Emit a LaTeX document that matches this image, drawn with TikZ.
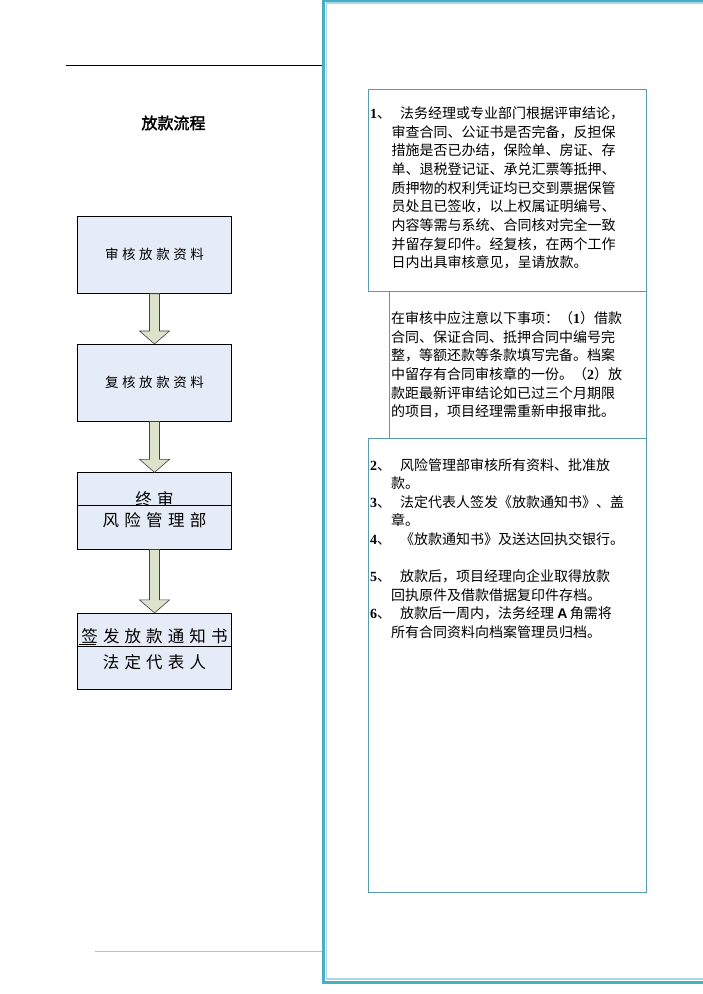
\documentclass[tikz,border=0pt]{standalone}
\usepackage{fontspec}
\setmainfont{Noto Sans CJK SC}
\newfontfamily\titlefont[FakeBold=2]{Noto Sans CJK SC}
\newfontfamily\numfont{Liberation Serif}
\newfontfamily\latinsans{Liberation Sans}
\usetikzlibrary{calc}
\definecolor{framedark}{HTML}{4BACC6}
\definecolor{framelight}{HTML}{A8D8E6}
\definecolor{boxline}{HTML}{5B9BB0}
\definecolor{lfill}{HTML}{E6ECF7}
\definecolor{afill}{HTML}{DDE2CD}
\definecolor{hrgray}{HTML}{BFBFBF}
\newcommand\lspaced[2]{\def\lsgap{#1}\lspacedaux#2\relax}
\def\lspacedaux#1{\ifx#1\relax\unskip\else#1\hspace{\lsgap}\expandafter\lspacedaux\fi}
\tikzset{
  lbox/.style={draw=black, fill=lfill, line width=0.8pt, inner sep=0pt, minimum width=154.4pt},
  fatarrow/.style={fill=afill, draw=black!75, line width=0.6pt, line join=miter},
  rbox/.style={draw=boxline, line width=1pt, inner sep=0pt},
  rtext/.style={anchor=base west, inner sep=0pt, font=\fontsize{14}{14}\selectfont},
  numtext/.style={anchor=base west, inner sep=0pt, font=\fontsize{14}{14}\selectfont},
  smalltext/.style={font=\fontsize{13.5}{13.5}\selectfont, inner sep=0pt},
  bigtext/.style={font=\fontsize{16.5}{16.5}\selectfont, inner sep=0pt},
}
\begin{document}
\begin{tikzpicture}[x=1pt,y=-1pt]
\useasboundingbox (0,0) rectangle (703,994);
\fill[white] (0,0) rectangle (703,994);

% top and bottom rules
\draw[line width=1pt] (66,65) -- (322,65);
\draw[hrgray, line width=1.5pt] (95,951.7) -- (322,951.7);

% right frame
\draw[framedark, line width=3.2pt] (323.3,0.6) rectangle (720,982.2);
\draw[framelight, line width=1.6pt] (326.4,3.2) rectangle (720,979.2);

% title
\node[font=\titlefont\fontsize{16}{16}\selectfont, inner sep=0pt] (title) at (173.5,123) {放款流程};

% left flow boxes
\node[lbox, minimum height=77pt, smalltext] (A) at (154.5,254.8) {\lspaced{3.6pt}{审核放款资料}};
\node[lbox, minimum height=76.7pt, smalltext] (B) at (154.5,382.7) {\lspaced{3.6pt}{复核放款资料}};
\node[lbox, minimum height=76.3pt] (C) at (154.5,510.9) {};
\node[lbox, minimum height=76pt] (D) at (154.5,651.3) {};

% box C content
\node[bigtext] (C1) at (154.5,499.5) {\lspaced{5.3pt}{终审}};
\fill[lfill] (77.8,505.4) rectangle (231.2,548.5);
\draw[line width=0.8pt] (C.west |- 0,505) -- (C.east |- 0,505);
\node[bigtext] (C2) at (154.5,520.5) {\lspaced{5.3pt}{风险管理部}};

% box D content
\node[bigtext] (D1) at (154.5,636.5) {\lspaced{5.1pt}{签发放款通知书}};
\draw[line width=0.6pt] (78.5,644.3) -- (95.5,644.3);
\fill[lfill] (77.8,646.4) rectangle (231.2,688.8);
\draw[line width=0.8pt] (D.west |- 0,646) -- (D.east |- 0,646);
\node[bigtext] (D2) at (154.5,662) {\lspaced{5.2pt}{法定代表人}};

% fat arrows
\draw[fatarrow] ($(A.south)+(-5,0)$) -- ($(B.north)+(-5,-13)$) -- ($(B.north)+(-15,-13)$) -- (B.north)
  -- ($(B.north)+(15,-13)$) -- ($(B.north)+(5,-13)$) -- ($(A.south)+(5,0)$) -- cycle;
\draw[fatarrow] ($(B.south)+(-5,0)$) -- ($(C.north)+(-5,-13)$) -- ($(C.north)+(-15,-13)$) -- (C.north)
  -- ($(C.north)+(15,-13)$) -- ($(C.north)+(5,-13)$) -- ($(B.south)+(5,0)$) -- cycle;
\draw[fatarrow] ($(C.south)+(-5,0)$) -- ($(D.north)+(-5,-13)$) -- ($(D.north)+(-15,-13)$) -- (D.north)
  -- ($(D.north)+(15,-13)$) -- ($(D.north)+(5,-13)$) -- ($(C.south)+(5,0)$) -- cycle;

% right boxes
\node[rbox, minimum width=278pt, minimum height=202pt] (R1) at (507,190) {};
\node[rbox, minimum width=257pt, minimum height=147pt] (R2) at (517.5,364.5) {};
\node[rbox, minimum width=278pt, minimum height=454pt] (R3) at (507,665) {};

% box 1 text
\node[numtext] (n1) at (370,118.6) {{\numfont\bfseries 1}、};
\node[rtext] (t1-0) at (400,118.6) {法务经理或专业部门根据评审结论，};
\foreach \t [count=\i] in {审查合同、公证书是否完备，反担保,
  措施是否已办结，保险单、房证、存,
  单、退税登记证、承兑汇票等抵押、,
  质押物的权利凭证均已交到票据保管,
  员处且已签收，以上权属证明编号、,
  内容等需与系统、合同核对完全一致,
  并留存复印件。经复核，在两个工作,
  日内出具审核意见，呈请放款。}
  \node[rtext] (t1-\i) at (391.5,{118.6+18.67*\i}) {\t};

% box 2 text
\node[rtext] (t2-0) at (391,323.6) {在审核中应注意以下事项：（{\numfont\bfseries 1}）借款};
\node[rtext] (t2-1) at (391,342.2) {合同、保证合同、抵押合同中编号完};
\node[rtext] (t2-2) at (391,360.8) {整，等额还款等条款填写完备。档案};
\node[rtext] (t2-3) at (391,379.4) {中留存有合同审核章的一份。（{\numfont\bfseries 2}）放};
\node[rtext] (t2-4) at (391,398.0) {款距最新评审结论如已过三个月期限};
\node[rtext] (t2-5) at (391,416.6) {的项目，项目经理需重新申报审批。};

% box 3 text
\node[numtext] (n2) at (370,470.3) {{\numfont\bfseries 2}、};
\node[rtext] (t3-0) at (400,470.3) {风险管理部审核所有资料、批准放};
\node[rtext] (t3-1) at (391,488.85) {款。};
\node[numtext] (n3) at (370,507.4) {{\numfont\bfseries 3}、};
\node[rtext] (t3-2) at (400,507.4) {法定代表人签发《放款通知书》、盖};
\node[rtext] (t3-3) at (391,525.95) {章。};
\node[numtext] (n4) at (370,544.5) {{\numfont\bfseries 4}、};
\node[rtext] (t3-4) at (400,544.5) {《放款通知书》及送达回执交银行。};
\node[numtext] (n5) at (370,581.6) {{\numfont\bfseries 5}、};
\node[rtext] (t3-6) at (400,581.6) {放款后，项目经理向企业取得放款};
\node[rtext] (t3-7) at (391,600.15) {回执原件及借款借据复印件存档。};
\node[numtext] (n6) at (370,618.7) {{\numfont\bfseries 6}、};
\node[rtext] (t3-8) at (400,618.7) {放款后一周内，法务经理 {\latinsans\bfseries A}\,角需将};
\node[rtext] (t3-9) at (391,637.25) {所有合同资料向档案管理员归档。};
\end{tikzpicture}
\end{document}
